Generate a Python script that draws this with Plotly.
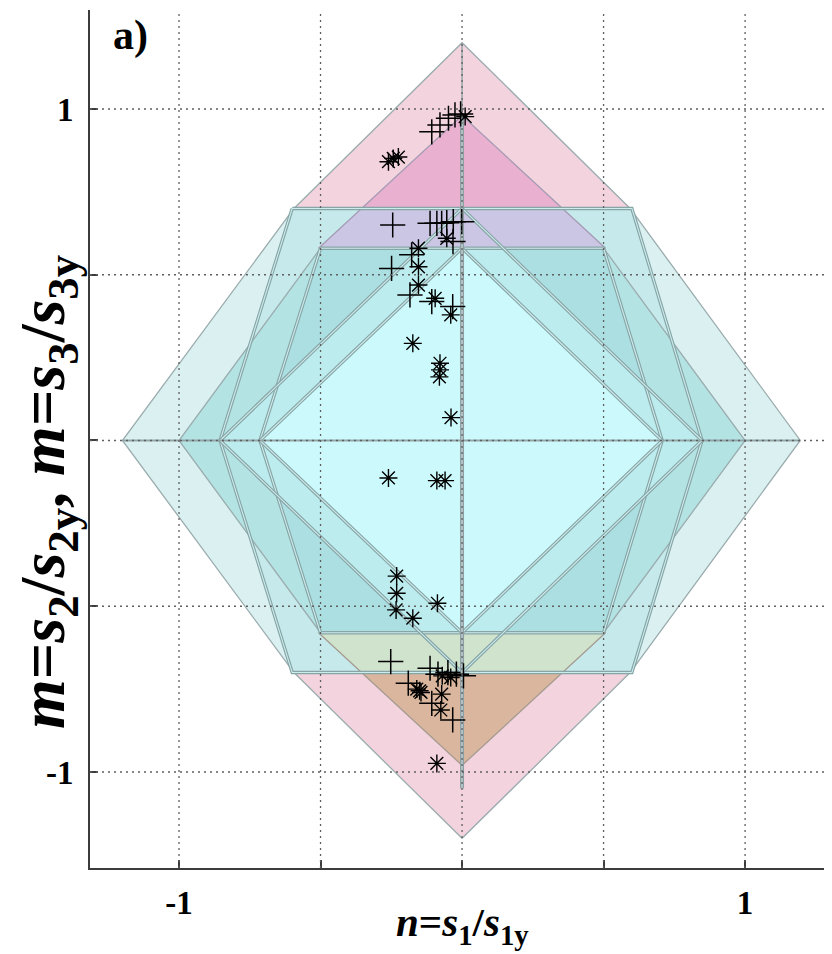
import plotly.graph_objects as go

# ---------------- data ----------------
# yield-surface projections: polygon vertices (n, m)
pink_top = [(-0.594, 0.70), (0.0, 1.20), (0.594, 0.70)]
pink_bot = [(-0.594, -0.70), (0.0, -1.20), (0.594, -0.70)]
hex_outer = [(-0.594, 0.70), (0.594, 0.70), (1.195, 0.0), (0.594, -0.70), (-0.594, -0.70), (-1.20, 0.0)]
hex_c = [(-0.60, 0.70), (0.60, 0.70), (0.848, 0.0), (0.60, -0.70), (-0.60, -0.70), (-0.855, 0.0)]
hex_teal = [(-0.50, 0.58), (0.50, 0.58), (1.0, 0.0), (0.50, -0.58), (-0.50, -0.58), (-1.0, 0.0)]
hex_d = [(-0.50, 0.58), (0.50, 0.58), (0.707, 0.0), (0.50, -0.58), (-0.50, -0.58), (-0.714, 0.0)]
dia_c = [(0.0, 0.70), (0.848, 0.0), (0.0, -0.70), (-0.855, 0.0)]
dia_d = [(0.0, 0.58), (0.707, 0.0), (0.0, -0.58), (-0.714, 0.0)]
tri_top = [(-0.507, 0.58), (0.0, 0.98), (0.507, 0.58)]
tri_top_upper = [(-0.355, 0.70), (0.0, 0.98), (0.355, 0.70)]
tri_bot = [(-0.507, -0.58), (0.0, -0.98), (0.507, -0.58)]
tri_bot_lower = [(-0.355, -0.70), (0.0, -0.98), (0.355, -0.70)]
axis_n0_top = [(0.0, 1.20), (0.0, 0.98)]
axis_n0 = [(0.0, 0.98), (0.0, -1.05)]
axis_m0 = [(-1.20, 0.0), (1.195, 0.0)]

# experimental points
plus_n = [-0.107, -0.078, -0.048, -0.025, -0.005,
          -0.245, -0.113, -0.089, -0.072, -0.054, -0.031, -0.001,
          -0.032, -0.178, -0.249, -0.184, -0.107, -0.033,
          -0.252, -0.113, -0.085, -0.050, -0.020, 0.005, -0.190, -0.107, -0.033]
plus_m = [0.931, 0.952, 0.972, 0.982, 0.985,
          0.650, 0.655, 0.655, 0.655, 0.657, 0.660, 0.660,
          0.600, 0.560, 0.519, 0.439, 0.419, 0.404,
          -0.667, -0.687, -0.705, -0.700, -0.705, -0.710, -0.732, -0.793, -0.843]

star_n = [0.011, -0.243, -0.260, -0.225,
          -0.054, -0.154, -0.154, -0.154, -0.095, -0.040, -0.174, -0.078, -0.078, -0.080, -0.039,
          -0.260, -0.089, -0.060,
          -0.231, -0.231, -0.233, -0.174, -0.087,
          -0.070, -0.040, -0.160, -0.150, -0.145, -0.072, -0.075, -0.089]
star_m = [0.977, 0.851, 0.841, 0.855,
          0.610, 0.580, 0.524, 0.469, 0.429, 0.379, 0.293, 0.233, 0.213, 0.192, 0.069,
          -0.113, -0.121, -0.121,
          -0.409, -0.461, -0.511, -0.536, -0.491,
          -0.710, -0.715, -0.750, -0.755, -0.760, -0.765, -0.813, -0.974]

tick_vals = [-1, -0.5, 0, 0.5, 1]
tick_text = ["<b>-1</b>", "", "", "", "<b>1</b>"]

# ---------------- figure ----------------
fig = go.Figure()


def fill_poly(pts, color):
    xs = [p[0] for p in pts] + [pts[0][0]]
    ys = [p[1] for p in pts] + [pts[0][1]]
    fig.add_trace(go.Scatter(x=xs, y=ys, mode="lines", fill="toself", fillcolor=color,
                             line=dict(width=0), hoverinfo="skip", showlegend=False))


def outline(pts, color, width, closed=True):
    xs = [p[0] for p in pts] + ([pts[0][0]] if closed else [])
    ys = [p[1] for p in pts] + ([pts[0][1]] if closed else [])
    fig.add_trace(go.Scatter(x=xs, y=ys, mode="lines", line=dict(color=color, width=width),
                             hoverinfo="skip", showlegend=False))


def double(pts, closed=True):
    outline(pts, "rgb(135,165,167)", 3.4, closed)
    outline(pts, "rgb(205,236,236)", 1.1, closed)


# fills (outer to inner)
fill_poly(pink_top, "rgb(243,211,221)")
fill_poly(pink_bot, "rgb(243,211,221)")
fill_poly(hex_outer, "rgb(218,240,241)")
fill_poly(hex_c, "rgb(198,234,235)")
fill_poly(hex_teal, "rgb(180,227,228)")
fill_poly(hex_d, "rgb(172,223,225)")
fill_poly(dia_c, "rgb(188,236,238)")
fill_poly(dia_d, "rgb(204,250,252)")
fill_poly(tri_top, "rgb(204,198,229)")
fill_poly(tri_top_upper, "rgb(233,176,207)")
fill_poly(tri_bot, "rgb(208,227,205)")
fill_poly(tri_bot_lower, "rgb(217,182,157)")

# outlines
single_col = "rgb(155,172,174)"
outline(pink_top, single_col, 1.3)
outline(pink_bot, single_col, 1.3)
outline(hex_outer, single_col, 1.3)
outline(hex_teal, single_col, 1.3)
outline(tri_top, "rgb(165,155,180)", 1.3)
outline(tri_bot, "rgb(165,155,145)", 1.3)
double(hex_c)
double(hex_d)
double(dia_c)
double(dia_d)
outline(axis_m0, "rgb(145,165,167)", 2.0, closed=False)
outline(axis_n0_top, "rgb(150,165,168)", 1.5, closed=False)
outline(axis_n0, "rgb(140,158,162)", 4.0, closed=False)
outline(axis_n0, "rgb(200,215,218)", 1.2, closed=False)

# points
fig.add_trace(go.Scatter(x=plus_n, y=plus_m, mode="markers", showlegend=False,
                         marker=dict(symbol="cross-thin-open", size=18, color="black",
                                     line=dict(color="black", width=1.5))))
fig.add_trace(go.Scatter(x=star_n, y=star_m, mode="markers", showlegend=False,
                         marker=dict(symbol="asterisk-open", size=15, color="black",
                                     line=dict(color="black", width=1.4))))

# dotted grid drawn above the surfaces
shapes = []
for v in tick_vals:
    shapes.append(dict(type="line", xref="x", yref="paper", x0=v, x1=v, y0=0, y1=1,
                       layer="above", line=dict(color="rgb(95,95,95)", width=1.3, dash="2px,4px")))
    shapes.append(dict(type="line", xref="paper", yref="y", x0=0, x1=1, y0=v, y1=v,
                       layer="above", line=dict(color="rgb(95,95,95)", width=1.3, dash="2px,4px")))
shapes.append(dict(type="line", xref="paper", yref="paper", x0=0.996, x1=0.996, y0=0, y1=1,
                   layer="above", line=dict(color="rgb(175,175,175)", width=5, dash="2px,2px")))

font_fam = "Liberation Serif, Times New Roman, serif"

# the page body adds an 8px margin, so the figure is sized to fit the window
fig.update_layout(
    width=824, height=946,
    margin=dict(l=82, r=2, t=2, b=86, autoexpand=False),
    paper_bgcolor="white", plot_bgcolor="white",
    shapes=shapes,
    xaxis=dict(range=[-1.3145, 1.300], tickvals=tick_vals, ticktext=tick_text, automargin=False,
               showgrid=False, zeroline=False, showline=True, linecolor="rgb(60,60,60)",
               linewidth=2, ticks="inside", ticklen=8, tickwidth=2, tickcolor="rgb(60,60,60)",
               tickfont=dict(family=font_fam, size=33, color="black"), ticklabelstandoff=4),
    yaxis=dict(range=[-1.2896, 1.2986], tickvals=tick_vals, ticktext=tick_text, automargin=False,
               showgrid=False, zeroline=False, showline=True, linecolor="rgb(60,60,60)",
               linewidth=2, ticks="inside", ticklen=8, tickwidth=2, tickcolor="rgb(60,60,60)",
               tickfont=dict(family=font_fam, size=33, color="black"), ticklabelstandoff=8),
    annotations=[
        dict(text="<b><i>n</i>=<i>s</i><sub>1</sub>/<i>s</i><sub>1y</sub></b>", xref="x", yref="paper",
             x=0.0, y=-0.067, xanchor="center", yanchor="middle", showarrow=False,
             font=dict(family=font_fam, size=41, color="black")),
        dict(text="<b><i>m</i>=<i>s</i><sub>2</sub>/<i>s</i><sub>2y</sub>, <i>m</i>=<i>s</i><sub>3</sub>/<i>s</i><sub>3y</sub></b>",
             xref="paper", yref="y", x=-0.058, y=-0.155, xanchor="center", yanchor="middle",
             textangle=-90, showarrow=False, font=dict(family=font_fam, size=64, color="black")),
        dict(text="<b>a)</b>", xref="x", yref="y", x=-1.173, y=1.223, xanchor="center",
             yanchor="middle", showarrow=False, font=dict(family=font_fam, size=42, color="black")),
    ],
)

fig.write_html("out.html")
